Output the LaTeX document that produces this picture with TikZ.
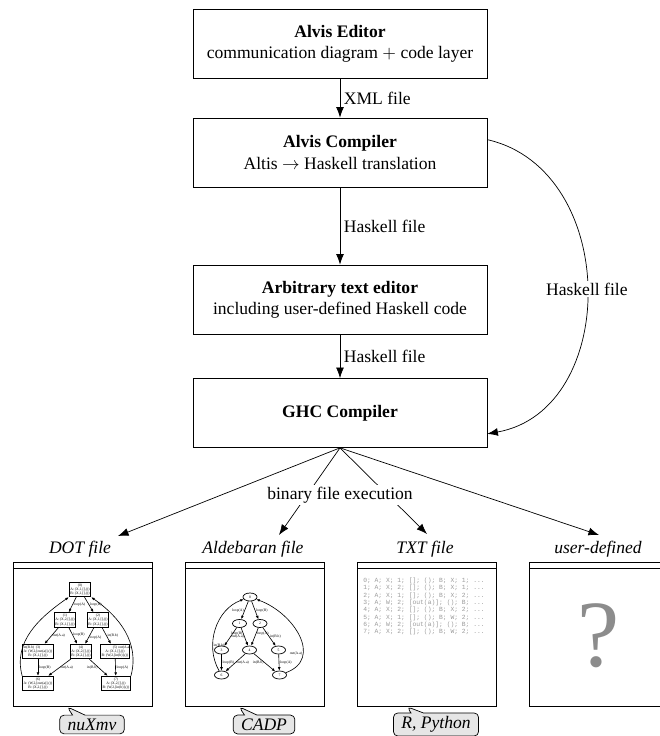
\documentclass[tikz,border=0pt]{standalone}
\usepackage{fontspec}
\setmainfont{Liberation Serif}
\setmonofont{Liberation Mono}
\usetikzlibrary{positioning, shapes.geometric, shapes.callouts, arrows.meta, calc}
\definecolor{notegray}{HTML}{E6E6E6}
\definecolor{qgray}{HTML}{8C8C8C}
\definecolor{txtgray}{HTML}{9A9A9A}
\newcommand{\minifont}{\fontsize{2.1}{2.5}\selectfont}

\begin{document}
\begin{tikzpicture}[
    stage/.style={draw, minimum width=5.88cm, minimum height=1.38cm, align=center},
    flow/.style={-{Latex[length=6pt, width=4.5pt]}},
    flowlab/.style={right, inner sep=2pt},
    filetitle/.style={font=\itshape},
    docpanel/.style={draw, anchor=north west, minimum width=2.78cm, minimum height=2.88cm},
    toolnote/.style={rectangle callout, draw, fill=notegray, rounded corners=2.5pt,
                     font=\itshape, inner xsep=4.5pt, inner ysep=2pt},
    dotstate/.style={draw, line width=0.6pt, font=\minifont, align=center, inner sep=0.6pt},
    aldstate/.style={ellipse, draw, line width=0.4pt, font=\minifont,
                     minimum width=0.28cm, minimum height=0.16cm, inner sep=0pt},
    miniflow/.style={line width=0.35pt, -{Latex[length=2pt, width=1.6pt]}},
    minilab/.style={font=\minifont, inner sep=0.4pt},
  ]
  \useasboundingbox (0,0) rectangle (13.18,-14.72);

  % tool chain
  \node[stage] (ed) at (6.8,-0.87) {\textbf{Alvis Editor}\\communication diagram $+$ code layer};
  \node[stage] (comp) at (6.8,-3.05) {\textbf{Alvis Compiler}\\Altis $\rightarrow$ Haskell translation};
  \node[stage] (arb) at (6.8,-5.99) {\textbf{Arbitrary text editor}\\including user-defined Haskell code};
  \node[stage] (ghc) at (6.8,-8.26) {\textbf{GHC Compiler}};

  \draw[flow] (ed) -- node[flowlab, midway] {XML file} (comp);
  \draw[flow] (comp) -- node[flowlab, midway] {Haskell file} (arb);
  \draw[flow] (arb) -- node[flowlab, midway] {Haskell file} (ghc);
  \draw[flow] ($(comp.north east)+(0,-0.44)$) .. controls (12.4,-3.4) and (12.4,-8.2) ..
        node[pos=0.5, fill=white, inner sep=1pt] (hk) {Haskell file} ($(ghc.south east)+(0,0.28)$);

  % outputs
  \coordinate (in1) at (2.36,-10.72);
  \coordinate (in2) at (5.58,-10.70);
  \coordinate (in3) at (8.54,-10.68);
  \coordinate (in4) at (11.98,-10.70);
  \foreach \t in {in1,in2,in3,in4}
    \draw[flow] (ghc.south) -- (\t);
  \node[fill=white, inner sep=1pt] (bin) at (6.8,-9.9) {binary file execution};

  \node[filetitle] (t1) at (1.6,-10.98) {DOT file};
  \node[filetitle] (t2) at (5.06,-10.98) {Aldebaran file};
  \node[filetitle] (t3) at (8.5,-10.98) {TXT file};
  \node[filetitle] (t4) at (11.96,-10.98) {user-defined};

  \node[docpanel] (p1) at (0.26,-11.24) {};
  \node[docpanel] (p2) at (3.70,-11.24) {};
  \node[docpanel] (p3) at (7.14,-11.24) {};
  \node[docpanel] (p4) at (10.58,-11.24) {};
  \foreach \p in {p1,p2,p3,p4}
    \draw ($(\p.north west)+(0,-0.12)$) -- ($(\p.north east)+(0,-0.12)$);

  % DOT graph
  \node[dotstate] (d0) at (1.60,-11.79) {(0)\\A: (X,1,[],())\\B: (X,1,[],())};
  \node[dotstate] (d1) at (1.30,-12.40) {(1)\\A: (X,2,[],())\\B: (X,1,[],())};
  \node[dotstate] (d2) at (1.96,-12.40) {(2)\\A: (X,1,[],())\\B: (X,2,[],())};
  \node[dotstate] (d3) at (0.76,-13.03) {(3)\\A: (W,2,[out(a)],())\\B: (X,1,[],())};
  \node[dotstate] (d4) at (1.62,-13.03) {(4)\\A: (X,2,[],())\\B: (X,2,[],())};
  \node[dotstate] (d5) at (2.30,-13.03) {(5)\\A: (X,1,[],())\\B: (W,2,[in(b)],())};
  \node[dotstate] (d6) at (0.76,-13.67) {(6)\\A: (W,2,[out(a)],())\\B: (X,2,[],())};
  \node[dotstate] (d7) at (2.32,-13.67) {(7)\\A: (X,2,[],())\\B: (W,2,[in(b)],())};
  \draw[miniflow] (d0) -- node[minilab, right, midway] {loop(A)} (d1);
  \draw[miniflow] (d0) -- node[minilab, right, midway] {loop(B)} (d2);
  \draw[miniflow] (d1) -- node[minilab, right, midway] {out(A.a)} (d3);
  \draw[miniflow] (d1) -- node[minilab, right, pos=0.4] {loop(B)} (d4);
  \draw[miniflow] (d2) -- node[minilab, right, pos=0.6] {loop(A)} (d4);
  \draw[miniflow] (d2) -- node[minilab, right, midway] {in(B.b)} (d5);
  \draw[miniflow] (d3) -- node[minilab, right, midway] {loop(B)} (d6);
  \draw[miniflow] (d4) -- node[minilab, right, midway] {out(A.a)} (d6);
  \draw[miniflow] (d4) -- node[minilab, left, midway] {in(B.b)} (d7);
  \draw[miniflow] (d5) -- node[minilab, right, midway] {loop(A)} (d7);
  \draw[miniflow] (d6.north west) to[out=105, in=215] node[minilab, right, pos=0.3] {in(B.b)} (d0.south west);
  \draw[miniflow] (d7.north east) to[out=75, in=-35] node[minilab, left, pos=0.3] {out(A.a)} (d0.south east);

  % Aldebaran graph
  \node[aldstate] (a0) at (5.00,-11.94) {0};
  \node[aldstate] (a1) at (4.79,-12.47) {1};
  \node[aldstate] (a2) at (5.20,-12.47) {2};
  \node[aldstate] (a3) at (4.43,-13.00) {3};
  \node[aldstate] (a4) at (4.99,-13.00) {4};
  \node[aldstate] (a5) at (5.57,-13.00) {5};
  \node[aldstate] (a6) at (4.43,-13.50) {6};
  \node[aldstate] (a7) at (5.59,-13.50) {7};
  \draw[miniflow] (a0) -- node[minilab, left, midway] {loop(A)} (a1);
  \draw[miniflow] (a0) -- node[minilab, right, midway] {loop(B)} (a2);
  \draw[miniflow] (a1) -- node[minilab, right, midway] {out(A.a)} (a3);
  \draw[miniflow] (a1) -- node[minilab, left, pos=0.35] {loop(B)} (a4);
  \draw[miniflow] (a2) -- node[minilab, right, pos=0.35] {loop(A)} (a4);
  \draw[miniflow] (a2) -- node[minilab, right, midway] {in(B.b)} (a5);
  \draw[miniflow] (a3) -- node[minilab, right, midway] {loop(B)} (a6);
  \draw[miniflow] (a4) -- node[minilab, right, midway] {out(A.a)} (a6);
  \draw[miniflow] (a4) -- node[minilab, left, midway] {in(B.b)} (a7);
  \draw[miniflow] (a5) -- node[minilab, right, midway] {loop(A)} (a7);
  \draw[miniflow] (a6) to[out=120, in=200] node[minilab, right, pos=0.3] {in(B.b)} (a0);
  \draw[miniflow] (a7) to[out=20, in=-20, looseness=1.3] node[minilab, left, pos=0.3] {out(A.a)} (a0);

  % trace listing
  \node[font=\ttfamily\fontsize{3.6}{4.15}\selectfont, text=txtgray, align=left] (trace) at (8.48,-12.13)
    {0; A; X; 1; []; (); B; X; 1; ...\\
     1; A; X; 2; []; (); B; X; 1; ...\\
     2; A; X; 1; []; (); B; X; 2; ...\\
     3; A; W; 2; [out(a)]; (); B; ...\\
     4; A; X; 2; []; (); B; X; 2; ...\\
     5; A; X; 1; []; (); B; W; 2; ...\\
     6; A; W; 2; [out(a)]; (); B; ...\\
     7; A; X; 2; []; (); B; W; 2; ...};

  \node[text=qgray, font=\fontsize{54}{54}\selectfont] (qm) at (11.98,-12.72) {?};

  % tools
  \node[toolnote, callout absolute pointer={($(p1.south west)+(1.08,0)$)}] (n1) at (1.84,-14.49) {nuXmv};
  \node[toolnote, callout absolute pointer={($(p2.south west)+(1.08,0)$)}] (n2) at (5.28,-14.49) {CADP};
  \node[toolnote, callout absolute pointer={($(p3.south west)+(1.00,0)$)}] (n3) at (8.72,-14.49) {R, Python};
\end{tikzpicture}
\end{document}
